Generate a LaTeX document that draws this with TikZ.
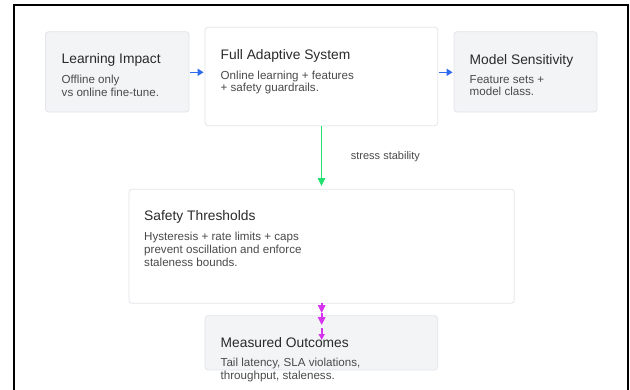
\documentclass[tikz,border=0pt]{standalone}
\usepackage{fontspec}
\setmainfont{Liberation Sans}
\usetikzlibrary{arrows.meta}
\definecolor{boxgray}{HTML}{F3F4F6}
\definecolor{boxline}{HTML}{E3E5EA}
\definecolor{titlecol}{HTML}{2A2A2A}
\definecolor{bodycol}{HTML}{4A4A4A}
\definecolor{arrblue}{HTML}{2F6BEF}
\definecolor{arrgreen}{HTML}{22E070}
\definecolor{arrmag}{HTML}{D633F0}
\tikzset{
  box/.style={draw=boxline, line width=0.8pt, rounded corners=3pt, inner sep=0pt},
  graybox/.style={box, fill=boxgray},
  whitebox/.style={box, fill=white},
  ttl/.style={anchor=base west, inner sep=0pt, text=titlecol, font=\fontsize{13.8}{16}\selectfont},
  bdy/.style={anchor=base west, inner sep=0pt, text=bodycol, align=left, font=\fontsize{11.6}{12.6}\selectfont},
  lbl/.style={anchor=base west, inner sep=0pt, text=bodycol, font=\fontsize{11}{13}\selectfont},
  conn/.style={line width=1.6pt},
  bluearr/.style={conn, color=arrblue, -{Triangle[length=6pt,width=7pt]}, shorten <=1pt, shorten >=1pt},
  greenarr/.style={conn, color=arrgreen, -{Triangle[length=8pt,width=7.5pt]}},
  magarr/.style={conn, color=arrmag, -{Triangle[length=8pt,width=7.5pt]}},
}
\begin{document}
\begin{tikzpicture}[x=1pt,y=-1pt]
\useasboundingbox (0,0) rectangle (630,389);
\fill[white] (0,0) rectangle (630,389);
% frame
\draw[line width=2pt, black] (14,400) -- (14,5) -- (628,5) -- (628,400);

% boxes
\node[graybox, minimum width=143.5pt, minimum height=80.3pt] (li) at (117.25,71.85) {};
\node[whitebox, minimum width=232.7pt, minimum height=98.4pt] (fas) at (321.35,76.5) {};
\node[graybox, minimum width=143pt, minimum height=80.3pt] (ms) at (525.5,71.85) {};
\node[whitebox, minimum width=385.3pt, minimum height=114pt] (st) at (321.65,246.3) {};
\node[graybox, minimum width=232.7pt, minimum height=54.3pt] (mo) at (321.35,342.85) {};

% texts
\node[ttl] (li-t) at (61.5,63.7) {Learning Impact};
\node[bdy] (li-b) at (61.5,96) {Offline only\\vs online fine-tune.};

\node[ttl] (fas-t) at (220.5,59) {Full Adaptive System};
\node[bdy] (fas-b) at (220.5,91.7) {Online learning + features\\+ safety guardrails.};

\node[ttl] (ms-t) at (469.5,64) {Model Sensitivity};
\node[bdy] (ms-b) at (469.5,95.7) {Feature sets +\\model class.};

\node[ttl] (st-t) at (144,220) {Safety Thresholds};
\node[bdy] (st-b) at (144,266) {Hysteresis + rate limits + caps\\prevent oscillation and enforce\\staleness bounds.};

\node[ttl] (mo-t) at (220.5,347.3) {Measured Outcomes};
\node[bdy] (mo-b) at (220.5,379.5) {Tail latency, SLA violations,\\throughput, staleness.};

% connectors
\coordinate (b1) at (189,72.3);
\coordinate (b2) at (437.7,72.3);
\draw[bluearr] (b1) -- (b1 -| fas.west);
\draw[bluearr] (b2) -- (b2 -| ms.west);

\coordinate (g1) at (321.5,186);
\draw[greenarr] (fas.south -| g1) -- (g1);
\node[lbl] (g-l) at (350.7,159.3) {stress stability};

\coordinate (m0) at (321.7,303.3);
\coordinate (m1) at (321.7,313);
\coordinate (m2) at (321.7,325);
\coordinate (m3) at (321.7,328);
\coordinate (m4) at (321.7,340);
\draw[magarr] (m0) -- (m1);
\draw[magarr] (m1) -- (m2);
\draw[magarr, -{Triangle[length=6pt,width=6pt]}] (m3) -- (m4);
\end{tikzpicture}
\end{document}
